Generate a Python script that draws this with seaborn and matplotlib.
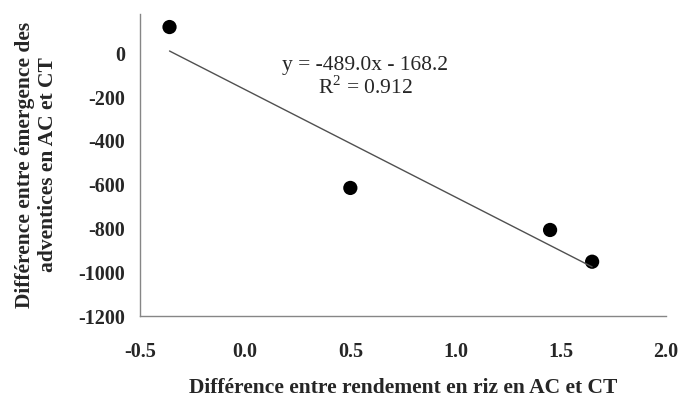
import numpy as np
import pandas as pd
import matplotlib
matplotlib.use("Agg")
import matplotlib.pyplot as plt
import seaborn as sns

# Data
rendement_diff = [-0.36, 0.50, 1.45, 1.65]
emergence_diff = [120, -615, -807, -952]
x_ticks = [-0.5, 0.0, 0.5, 1.0, 1.5, 2.0]
y_ticks = [0, -200, -400, -600, -800, -1000, -1200]
equation_text = "y = -489.0x - 168.2"
r2_text = "R$^2$ = 0.912"

df = pd.DataFrame({"x": rendement_diff, "y": emergence_diff})

sns.set_style("white")
plt.rcParams["font.family"] = ["Liberation Serif", "DejaVu Serif"]
plt.rcParams["mathtext.fontset"] = "custom"
plt.rcParams["mathtext.rm"] = "Liberation Serif"

fig = plt.figure(figsize=(6.8, 3.97), dpi=100)
ax = fig.add_axes([0.206, 0.204, 0.773, 0.761])

sns.regplot(data=df, x="x", y="y", ax=ax, ci=None, truncate=True,
            scatter_kws={"s": 105, "color": "black", "edgecolor": "none", "alpha": 1},
            line_kws={"color": "#505050", "lw": 1})

ax.set_xlim(-0.5, 2.0)
ax.set_ylim(-1200, 180)
ax.set_xticks(x_ticks)
ax.set_xticklabels([f"{v:.1f}" for v in x_ticks])
ax.set_yticks(y_ticks)
ax.set_yticklabels([str(v) for v in y_ticks])

for s in ["top", "right"]:
    ax.spines[s].set_visible(False)
for s in ["left", "bottom"]:
    ax.spines[s].set_color("#868686")
    ax.spines[s].set_linewidth(1)

ax.tick_params(axis="x", direction="out", length=5, width=1, color="#868686",
               pad=14, labelsize=14.5)
ax.tick_params(axis="y", direction="out", length=5, width=1, color="#868686",
               pad=6, labelsize=14.5)
for lab in ax.get_xticklabels() + ax.get_yticklabels():
    lab.set_fontweight("bold")

ax.set_xlabel("Différence entre rendement en riz en AC et CT",
              fontsize=15.5, fontweight="bold", labelpad=11)
ax.set_ylabel("Différence entre émergence des\nadventices en AC et CT",
              fontsize=15.5, fontweight="bold", labelpad=14, linespacing=1.25)

# regression equation as shown in the reference
ax.text(0.57, -55, equation_text, fontsize=15.5, ha="center", va="center")
ax.text(0.57, -156, r2_text, fontsize=15.5, ha="center", va="center")

fig.savefig("out.png", dpi=100)
